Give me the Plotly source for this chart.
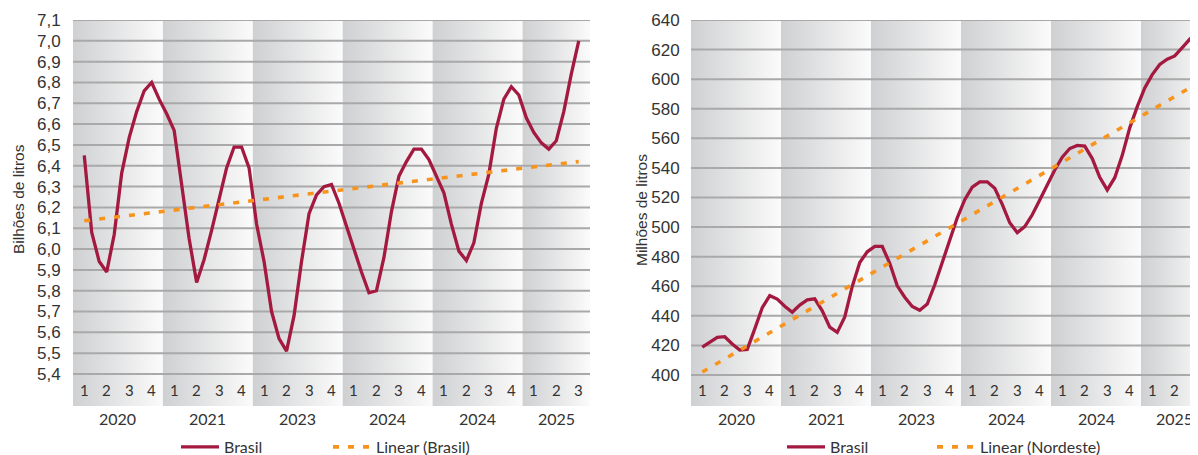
import numpy as np
import plotly.graph_objects as go

# ---------------- data ----------------
years = ["2020", "2021", "2023", "2024", "2024", "2025"]
quarters_per_year = [4, 4, 4, 4, 4, 3]

# monthly values (Brasil, bilhões de litros)
brasil_bilhoes = [
    6.45, 6.08, 5.94, 5.89, 6.07, 6.365, 6.535, 6.66, 6.76, 6.80,
    6.72, 6.65, 6.57, 6.30, 6.05, 5.84, 5.95, 6.09, 6.24, 6.39,
    6.49, 6.49, 6.39, 6.12, 5.94, 5.70, 5.57, 5.51, 5.68, 5.94,
    6.17, 6.26, 6.30, 6.31, 6.22, 6.11, 5.99, 5.89, 5.79, 5.80,
    5.96, 6.18, 6.35, 6.42, 6.48, 6.48, 6.43, 6.35, 6.27, 6.12,
    5.99, 5.945, 6.03, 6.22, 6.36, 6.58, 6.72, 6.78, 6.74, 6.63,
    6.56, 6.51, 6.48, 6.52, 6.66, 6.84, 7.00,
]

# monthly values (right panel, milhões de litros)
nordeste_milhoes = [
    418.8, 422.4, 425.5, 425.9, 421.0, 416.9, 417.3, 431.2, 445.5, 453.6,
    451.3, 446.5, 442.4, 447.3, 450.8, 451.5, 443.4, 432.4, 428.8, 439.2,
    459.9, 476.0, 483.3, 486.9, 486.9, 475.5, 460.3, 452.6, 446.3, 443.8,
    448.0, 461.0, 475.7, 491.1, 506.3, 518.5, 527.0, 530.6, 530.6, 526.3,
    515.4, 502.9, 496.3, 500.3, 508.3, 518.3, 529.1, 538.6, 547.2, 553.1,
    555.2, 554.7, 546.3, 533.6, 525.1, 533.4, 548.5, 567.1, 581.4, 594.1,
    603.1, 609.9, 613.5, 615.7, 621.3, 627.0, 631.6,
]

left_ticks = [round(5.4 + 0.1 * i, 1) for i in range(18)]
right_ticks = list(range(400, 641, 20))

# ---------------- styling ----------------
LINE_COLOR = "#a3193f"
TREND_COLOR = "#f7941d"
GRID_COLOR = "#a9a9a9"
BAND_SCALE = [[0, "#cfd0d2"], [1, "#fbfbfb"]]
TEXT = "#333333"

OFF = 8                      # page body margin
W, H = 1190, 447
ML, MR, MT, MB = 65, 0, 12, 49
PW, PH = W - ML - MR, H - MT - MB


def px_x(vx):
    return (vx - OFF - ML) / PW


def px_y(vy):
    return (MT + PH - (vy - OFF)) / PH


def cx(vx):
    return (vx - OFF) / W


def cy(vy):
    return 1 - (vy - OFF) / H


total_q = sum(quarters_per_year)
LEFT_RANGE_Y = [5.2464, 7.1]
RIGHT_RANGE_Y = [379.04, 640]

fig = go.Figure()


def x_positions(n):
    # monthly points, from the centre of the first quarter to the last one
    return np.arange(n) / 3.0 + 0.5


def add_panel(values, ticks, yrange, xa, ya, leg_line, leg_trend, trend_name):
    ylo, yhi = yrange
    start = 0
    for nq in quarters_per_year:
        x0, x1 = start, start + nq
        fig.add_trace(go.Scatter(
            x=[x0, x1, x1, x0, x0], y=[ylo, ylo, yhi, yhi, ylo],
            mode="lines", fill="toself", line=dict(width=0),
            fillgradient=dict(type="horizontal", colorscale=BAND_SCALE,
                              start=x0, stop=x1),
            hoverinfo="skip", showlegend=False, xaxis=xa, yaxis=ya))
        start = x1
    gx, gy = [], []
    for t in ticks:
        gx += [0, total_q, None]
        gy += [t, t, None]
    fig.add_trace(go.Scatter(x=gx, y=gy, mode="lines",
                             line=dict(color=GRID_COLOR, width=2),
                             hoverinfo="skip", showlegend=False,
                             xaxis=xa, yaxis=ya))
    xs = x_positions(len(values))
    fig.add_trace(go.Scatter(x=xs, y=values, mode="lines", name="Brasil",
                             line=dict(color=LINE_COLOR, width=3.3),
                             xaxis=xa, yaxis=ya, legend=leg_line))
    coef = np.polyfit(xs, np.array(values), 1)
    trend = np.polyval(coef, xs)
    fig.add_trace(go.Scatter(x=xs, y=trend, mode="lines", name=trend_name,
                             line=dict(color=TREND_COLOR, width=3.6,
                                       dash="6px,9px"),
                             xaxis=xa, yaxis=ya, legend=leg_trend))


add_panel(brasil_bilhoes, left_ticks, LEFT_RANGE_Y, "x", "y",
          "legend", "legend2", "Linear (Brasil)")
add_panel(nordeste_milhoes, right_ticks, RIGHT_RANGE_Y, "x2", "y2",
          "legend3", "legend4", "Linear (Nordeste)")

left_dom = [0, 517 / PW]
right_dom = [px_x(691), 1]
right_span = (1198 - 691) / 22.5

axis_common = dict(showgrid=False, zeroline=False, showline=False,
                   fixedrange=True, automargin=False)
tickfont = dict(family="Liberation Sans, Arial", size=17, color=TEXT)
legend_common = dict(orientation="h", xref="container", yref="container",
                     xanchor="left", yanchor="middle",
                     font=dict(family="Lato", size=16, color=TEXT),
                     bgcolor="rgba(0,0,0,0)", itemwidth=38)

fig.update_layout(
    width=W, height=H,
    margin=dict(l=ML, r=MR, t=MT, b=MB, autoexpand=False),
    paper_bgcolor="white", plot_bgcolor="white",
    separators=",.",
    xaxis=dict(domain=left_dom, range=[0, total_q], showticklabels=False,
               **axis_common),
    yaxis=dict(range=LEFT_RANGE_Y, tickvals=left_ticks, tickformat=".1f",
               ticks="outside", ticklen=8, tickcolor="rgba(0,0,0,0)",
               tickfont=tickfont, anchor="x", **axis_common),
    xaxis2=dict(domain=right_dom, range=[0, right_span], showticklabels=False,
                anchor="y2", **axis_common),
    yaxis2=dict(range=RIGHT_RANGE_Y, tickvals=right_ticks, tickformat="d",
                ticks="outside", ticklen=7, tickcolor="rgba(0,0,0,0)",
                tickfont=tickfont, anchor="x2", **axis_common),
    legend=dict(x=cx(176), y=cy(447), **legend_common),
    legend2=dict(x=cx(328), y=cy(447), **legend_common),
    legend3=dict(x=cx(782), y=cy(447), **legend_common),
    legend4=dict(x=cx(932), y=cy(447), **legend_common),
    showlegend=True,
)

q_y = px_y(390)
yr_y = px_y(418)
for xref in ["x", "x2"]:
    start = 0
    for yr, nq in zip(years, quarters_per_year):
        for k in range(nq):
            fig.add_annotation(x=start + k + 0.5, y=q_y, xref=xref, yref="paper",
                               text=str(k + 1), showarrow=False,
                               font=dict(family="Lato", size=15, color=TEXT),
                               xanchor="center", yanchor="middle")
        fig.add_annotation(x=start + nq / 2, y=yr_y, xref=xref, yref="paper",
                           text=yr, showarrow=False,
                           font=dict(family="Lato", size=16, color=TEXT),
                           xanchor="center", yanchor="middle")
        start += nq

fig.add_annotation(x=px_x(18), y=px_y(199), xref="paper", yref="paper",
                   text="Bilhões de litros", textangle=-90, showarrow=False,
                   xanchor="center", yanchor="middle",
                   font=dict(family="Liberation Sans, Arial", size=15.5,
                             color=TEXT))
fig.add_annotation(x=px_x(641), y=px_y(210), xref="paper", yref="paper",
                   text="Milhões de litros", textangle=-90, showarrow=False,
                   xanchor="center", yanchor="middle",
                   font=dict(family="Liberation Sans, Arial", size=15.5,
                             color=TEXT))

fig.write_html("out.html")
